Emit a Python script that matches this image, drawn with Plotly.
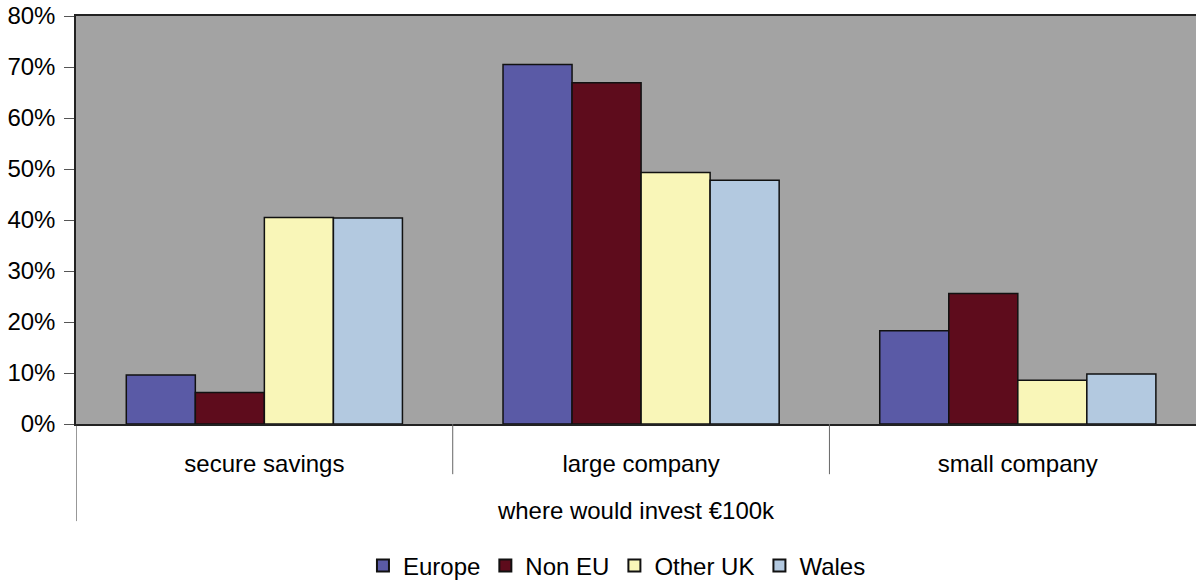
import plotly.graph_objects as go

categories = ["secure savings", "large company", "small company"]
series_names = ["Europe", "Non EU", "Other UK", "Wales"]
europe = [0.096, 0.705, 0.183]
non_eu = [0.062, 0.669, 0.256]
other_uk = [0.405, 0.493, 0.086]
wales = [0.404, 0.478, 0.098]
values = [europe, non_eu, other_uk, wales]
colors = ["#5a5aa6", "#5e0c1c", "#f9f6b8", "#b3c9e0"]
y_ticks = [0, 0.1, 0.2, 0.3, 0.4, 0.5, 0.6, 0.7, 0.8]
x_title = "where would invest €100k"

FONT = "Liberation Sans, Arial, sans-serif"
FS = 24

fig = go.Figure()
for name, vals, col in zip(series_names, values, colors):
    fig.add_trace(go.Bar(
        x=categories, y=vals, name=name,
        marker=dict(color=col, line=dict(color="#111111", width=1.5)),
    ))

fig.update_layout(
    width=1196, height=582,
    margin=dict(l=76, r=0, t=16, b=158, autoexpand=False),
    paper_bgcolor="white",
    plot_bgcolor="#a3a3a3",
    barmode="group",
    bargap=0.267,
    bargroupgap=0,
    font=dict(family=FONT, size=FS, color="black"),
    showlegend=True,
    legend=dict(
        orientation="h", x=0.483, xanchor="center", y=-0.348, yanchor="middle",
        font=dict(size=FS), itemwidth=30, tracegroupgap=0,
        itemsizing="constant",
    ),
)

fig.update_yaxes(
    range=[0, 0.8], tickvals=y_ticks, tickformat=".0%",
    showgrid=False, zeroline=False, automargin=False,
    showline=True, linecolor="#222222", linewidth=1.5,
    ticks="outside", ticklen=10, tickcolor="#555555",
    tickfont=dict(size=FS), ticklabelstandoff=4,
)
fig.update_xaxes(
    range=[-0.5, 2.473], automargin=False,
    showgrid=False, showline=True, mirror=True,
    linecolor="#222222", linewidth=1.5,
    ticks="", tickfont=dict(size=FS),
    ticklabelstandoff=17,
    title=dict(text=x_title, font=dict(size=FS), standoff=27),
)

# category divider ticks below the axis
for b in [0.5, 1.5]:
    fig.add_shape(type="line", xref="x", yref="paper", x0=b, x1=b, y0=0, y1=-0.123,
                  line=dict(color="#666666", width=1))
fig.add_shape(type="line", xref="x", yref="paper", x0=-0.5, x1=-0.5, y0=0, y1=-0.238,
              line=dict(color="#333333", width=1))

fig.write_html("out.html")
